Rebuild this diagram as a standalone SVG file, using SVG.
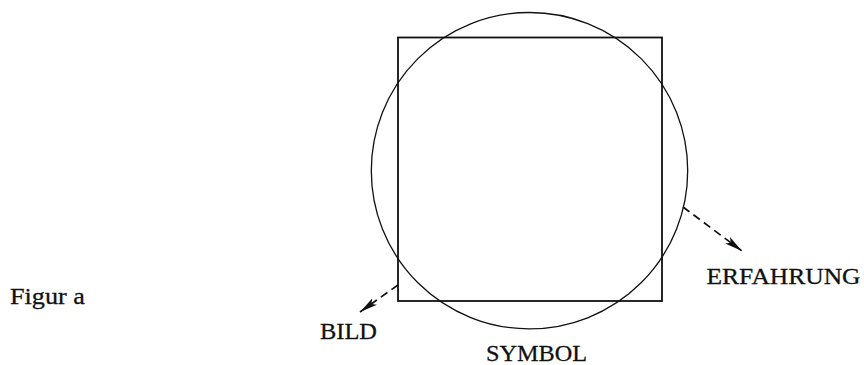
<svg xmlns="http://www.w3.org/2000/svg" width="864" height="365" viewBox="0 0 864 365">
<style>
.t{font-family:"Liberation Serif","DejaVu Serif",serif;font-size:24px;fill:#111;stroke:#111;stroke-width:0.3}
.sq{fill:none;stroke:#111;stroke-width:1.8}
.ci{fill:none;stroke:#111;stroke-width:1.3}
.dash{fill:none;stroke:#111;stroke-width:1.7;stroke-dasharray:8 5}
</style>
<defs>
<marker id="ah" viewBox="0 0 18 8" refX="18" refY="4" markerWidth="18" markerHeight="8" markerUnits="userSpaceOnUse" orient="auto">
<path d="M0,0 L18,4 L0,8 L4,4 Z" fill="#111"/>
</marker>
</defs>
<rect width="864" height="365" fill="#fff"/>
<g id="square"><rect class="sq" x="398" y="37.5" width="264" height="263.5"/></g>
<g id="circle"><circle class="ci" cx="529.5" cy="170.7" r="158.2"/></g>
<g id="connectors">
<line class="dash" x1="398" y1="285" x2="360" y2="312" marker-end="url(#ah)"/>
<line class="dash" x1="683" y1="207" x2="742" y2="251" marker-end="url(#ah)"/>
</g>
<g id="label-figur"><text class="t" x="10" y="304" textLength="75" lengthAdjust="spacingAndGlyphs">Figur a</text></g>
<g id="label-bild"><text class="t" x="320" y="339" textLength="57" lengthAdjust="spacingAndGlyphs">BILD</text></g>
<g id="label-symbol"><text class="t" x="486" y="361" textLength="101" lengthAdjust="spacingAndGlyphs">SYMBOL</text></g>
<g id="label-erfahrung"><text class="t" x="706.5" y="284" textLength="154" lengthAdjust="spacingAndGlyphs">ERFAHRUNG</text></g>
</svg>
